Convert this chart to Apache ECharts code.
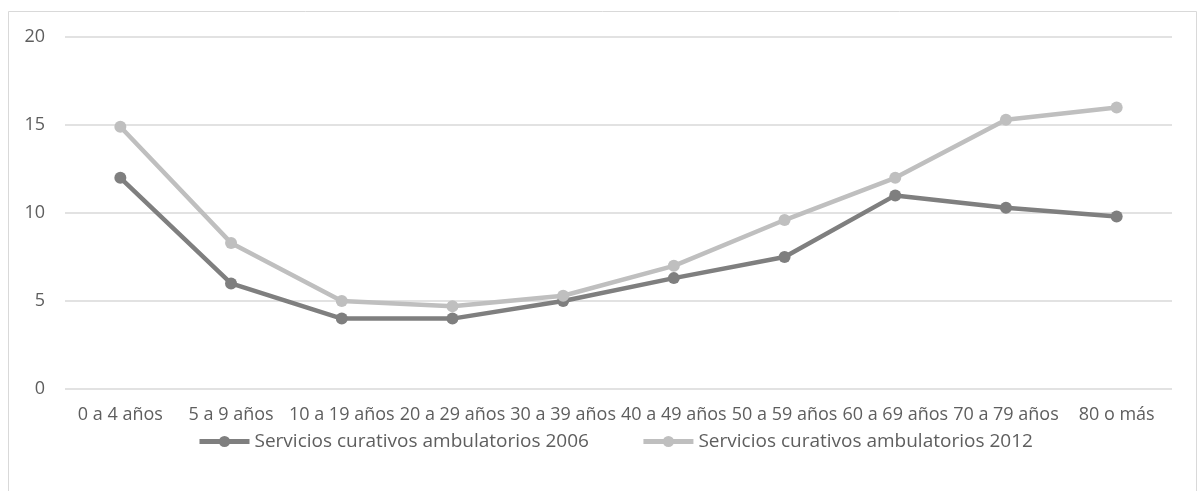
<!DOCTYPE html>
<html>
<head>
<meta charset="utf-8">
<style>
  html, body { margin: 0; padding: 0; background: #ffffff; }
  #chart { width: 1197px; height: 491px; }
</style>
<script src="https://cdn.jsdelivr.net/npm/echarts@6/dist/echarts.min.js"></script>
</head>
<body>
<div id="chart"></div>
<script>
// Age groups on the horizontal axis
const categories = [
  '0 a 4 años', '5 a 9 años', '10 a 19 años', '20 a 29 años', '30 a 39 años',
  '40 a 49 años', '50 a 59 años', '60 a 69 años', '70 a 79 años', '80 o más'
];

// Outpatient curative services by age group
const values2006 = [12.0, 6.0, 4.0, 4.0, 5.0, 6.3, 7.5, 11.0, 10.3, 9.8];
const values2012 = [14.9, 8.3, 5.0, 4.7, 5.3, 7.0, 9.6, 12.0, 15.3, 16.0];

const seriesNames = [
  'Servicios curativos ambulatorios 2006',
  'Servicios curativos ambulatorios 2012'
];

const yTicks = { min: 0, max: 20, interval: 5 };

const textColor = '#5e5e5e';
const fontFamily = '"Open Sans", "Liberation Sans", sans-serif';

const chart = echarts.init(document.getElementById('chart'), null, { renderer: 'canvas' });

function lineSeries(name, data, color) {
  return {
    name: name,
    type: 'line',
    data: data,
    symbol: 'circle',
    symbolSize: 12,
    lineStyle: { width: 4.5, color: color },
    itemStyle: { color: color },
    emphasis: { disabled: true },
    animation: false
  };
}

chart.setOption({
  backgroundColor: '#ffffff',
  animation: false,
  graphic: [{
    type: 'rect',
    shape: { x: 8.5, y: 11.5, width: 1188, height: 495 },
    style: { fill: 'none', stroke: '#d9d9d9', lineWidth: 1 },
    silent: true,
    z: -1
  }],
  grid: { left: 65, right: 25, top: 37, bottom: 102, containLabel: false },
  legend: {
    left: 192,
    top: 427,
    itemWidth: 50,
    itemHeight: 14,
    itemGap: 52,
    lineStyle: { width: 5 },
    textStyle: { color: textColor, fontSize: 19, fontFamily: fontFamily },
    data: seriesNames
  },
  xAxis: {
    type: 'category',
    data: categories,
    boundaryGap: true,
    axisLine: { show: false },
    axisTick: { show: false },
    axisLabel: {
      interval: 0,
      margin: 17,
      color: textColor,
      fontSize: 18,
      fontFamily: fontFamily
    }
  },
  yAxis: {
    type: 'value',
    min: yTicks.min,
    max: yTicks.max,
    interval: yTicks.interval,
    axisLine: { show: false },
    axisTick: { show: false },
    axisLabel: {
      margin: 20,
      color: textColor,
      fontSize: 18,
      fontFamily: fontFamily
    },
    splitLine: { lineStyle: { color: '#d9d9d9', width: 1.5 } }
  },
  series: [
    lineSeries(seriesNames[0], values2006, '#7f7f7f'),
    lineSeries(seriesNames[1], values2012, '#bfbfbf')
  ]
});
</script>
</body>
</html>
